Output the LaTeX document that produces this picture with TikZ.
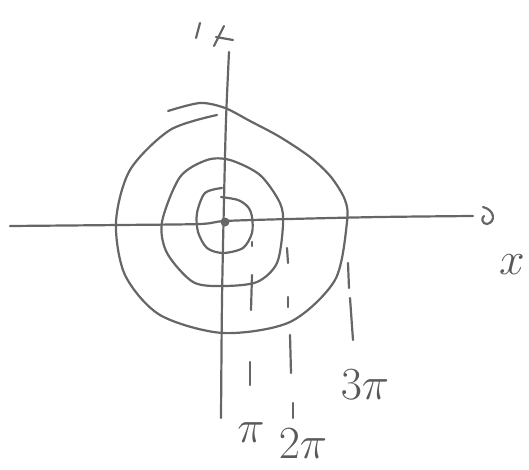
\documentclass[tikz,border=0pt]{standalone}
\begin{document}
\begin{tikzpicture}[x=1pt,y=-1pt,
  pen/.style={draw=black!60,line width=2.2pt,line cap=round,line join=round},
  lab/.style={text=black!65,font=\Huge,scale=1.85,inner sep=0pt}]
\useasboundingbox (0,0) rectangle (529,470);
% axes
\draw[pen] plot[smooth] coordinates {(10,226) (120,225) (200,224) (225,221) (290,219) (380,217) (473,216)};
\draw[pen] plot[smooth] coordinates {(229,52) (226,120) (224,200) (222,300) (221,418)};
\fill[black!60] (225,222) circle (4.5);
% outer spiral
\draw[pen] plot[smooth] coordinates {(217,115) (170,130) (130,170) (116,222) (125,275) (160,315) (223,333) (290,322) (335,280) (347,222) (345,200) (331,177) (310,157) (280,137) (250,121) (225,108) (200,103) (168,111)};
% middle circle
\draw[pen] plot[smooth cycle] coordinates {(162,222) (180,177) (207,160) (230,160) (260,175) (280,203) (283,225) (277,263) (257,282) (223,286) (193,282) (167,253)};
% inner
\draw[pen] plot[smooth] coordinates {(222,188) (205,193) (197,213) (198,232) (207,248) (223,253) (243,248) (252,233) (252,217) (248,207) (238,200) (221,197)};
% dashed guide ticks
\draw[pen] (252,242) -- (252,246);
\draw[pen] (252,275) -- (251,310);
\draw[pen] (250,362) -- (250,385);
\draw[pen] (287,248) -- (288,263);
\draw[pen] (288,297) -- (288,307);
\draw[pen] (290,335) -- (291,373);
\draw[pen] (293,403) -- (293,418);
\draw[pen] (348,263) -- (349,288);
\draw[pen] (350,298) -- (353,340);
% top marks
\draw[pen] (200,23) -- (196,38);
\draw[pen] (224,26) -- (214,46);
\draw[pen] (216,37) -- (233,40);
% curl at end of axis
\draw[pen] (483,207) .. controls (495,210) and (496,222) .. (487,224) .. controls (482,224) and (481,218) .. (484,216);
% labels
\node[lab] (p1) at (251,433) {$\pi$};
\node[lab] (p2) at (303,444) {$2\pi$};
\node[lab] (p3) at (365,385) {$3\pi$};
\node[lab] (xl) at (512,265) {$x$};
\end{tikzpicture}
\end{document}
